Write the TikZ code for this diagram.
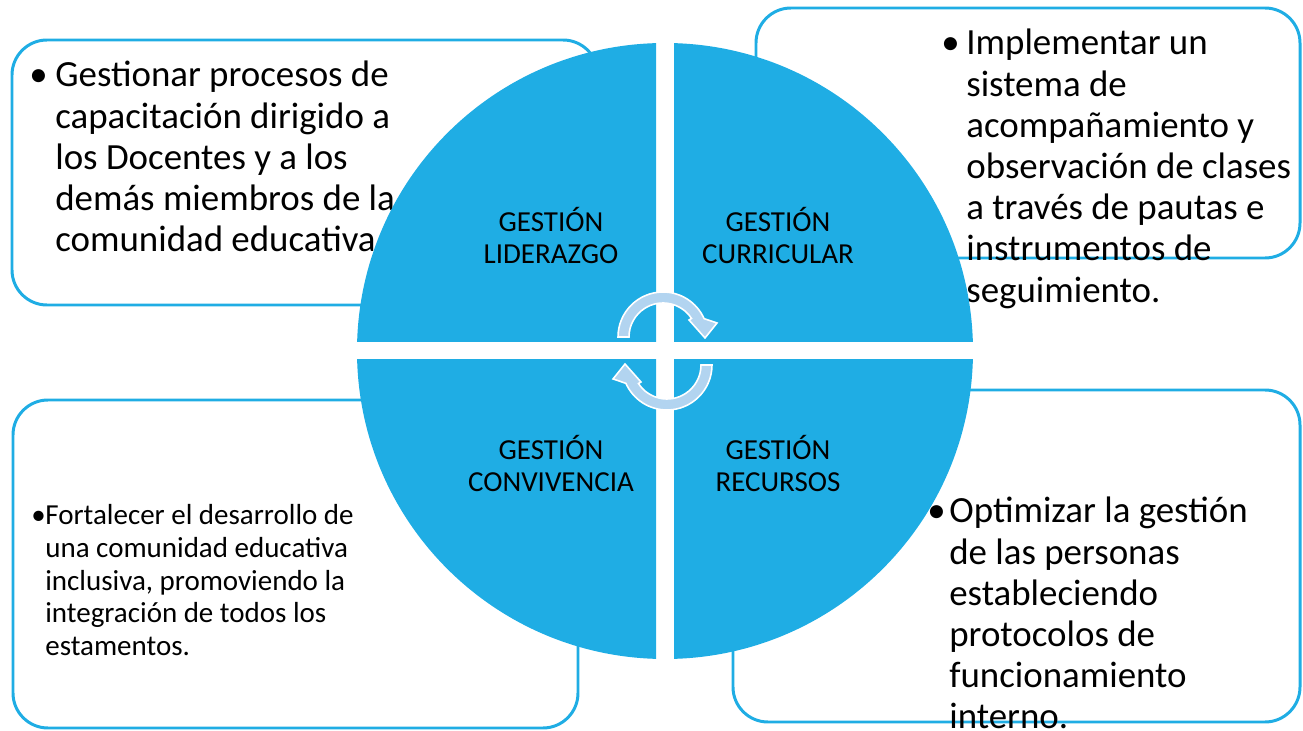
\documentclass[tikz,border=0pt]{standalone}
\usepackage{fontspec}
\setmainfont{Carlito}
\usepackage{tikz}
\usetikzlibrary{positioning}

\definecolor{gestblue}{RGB}{31,173,228}
\definecolor{ringblue}{RGB}{178,212,240}

\newcommand{\lines}[1]{\begin{tabular}[t]{@{}l@{}}#1\end{tabular}}
\newcommand{\clines}[1]{\begin{tabular}[t]{@{}c@{}}#1\end{tabular}}

\tikzset{
  infobox/.style={draw=gestblue, line width=1.7pt, rounded corners=0.7cm},
  bigtext/.style={inner sep=0pt, anchor=base west, font=\fontsize{21}{23.45}\selectfont},
  smalltext/.style={inner sep=0pt, anchor=base west, font=\fontsize{16.5}{18.5}\selectfont},
  quadlabel/.style={inner sep=0pt, anchor=base, font=\fontsize{16.5}{18}\selectfont},
  cycarrow/.pic={
    \filldraw[fill=ringblue, draw=white, line width=0.9pt, line join=miter]
      (180:34) -- (180:45) arc[start angle=180, end angle=24, radius=45]
      -- (54,14) -- (42,-1) -- (26,17) -- (33:34)
      arc[start angle=33, end angle=180, radius=34] -- cycle;
  }
}

\begin{document}
\begin{tikzpicture}[x=0.02cm, y=0.02cm]
		\useasboundingbox (0,0) rectangle (1303,731);
		
		% boxes
		\draw[infobox] (12,426) rectangle (598,691);
		\draw[infobox] (756,473) rectangle (1300,723);
		\draw[infobox] (13,3) rectangle (578,331);
		\draw[infobox] (733,9) rectangle (1300,341);
		
		% box texts
		\node[bigtext] (liderTxt) at (55,644) {\lines{Gestionar procesos de\\capacitación dirigido a\\los Docentes y a los\\demás miembros de la\\comunidad educativa}};
		\node[bigtext] (liderDot) at (29,644) {\textbullet};
		
		\node[bigtext] (curricTxt) at (966,676) {\lines{Implementar un\\sistema de\\acompañamiento y\\observación de clases\\a través de pautas e\\instrumentos de\\seguimiento.}};
		\node[bigtext] (curricDot) at (941,676) {\textbullet};
		
		\node[smalltext] (convivTxt) at (45,206) {\lines{Fortalecer el desarrollo de\\una comunidad educativa\\inclusiva, promoviendo la\\integración de todos los\\estamentos.}};
		\node[smalltext] (convivDot) at (31,206) {\textbullet};
		
		\node[bigtext] (recurTxt) at (949,208) {\lines{Optimizar la gestión\\de las personas\\estableciendo\\protocolos de\\funcionamiento\\interno.}};
		\node[bigtext] (recurDot) at (927,208) {\textbullet};
		
		% circle in four parts
		\foreach \sx/\sy in {-1/1, 1/1, -1/-1, 1/-1} {
			\begin{scope}
				\clip (665+9*\sx,380+9*\sy) rectangle ++(400*\sx,400*\sy);
				\fill[gestblue] (665,380) circle[radius=308];
			\end{scope}
		}
		
		% labels
		\node[quadlabel] (lider) at (551,499) {\clines{GESTIÓN\\LIDERAZGO}};
		\node[quadlabel] (curric) at (778,499) {\clines{GESTIÓN\\CURRICULAR}};
		\node[quadlabel] (conviv) at (551,271) {\clines{GESTIÓN\\CONVIVENCIA}};
		\node[quadlabel] (recur) at (778,271) {\clines{GESTIÓN\\RECURSOS}};
		
		% arrows
		\pic at (663,394) {cycarrow};
		\pic[rotate=180] at (667,366) {cycarrow};
\end{tikzpicture}
\end{document}
